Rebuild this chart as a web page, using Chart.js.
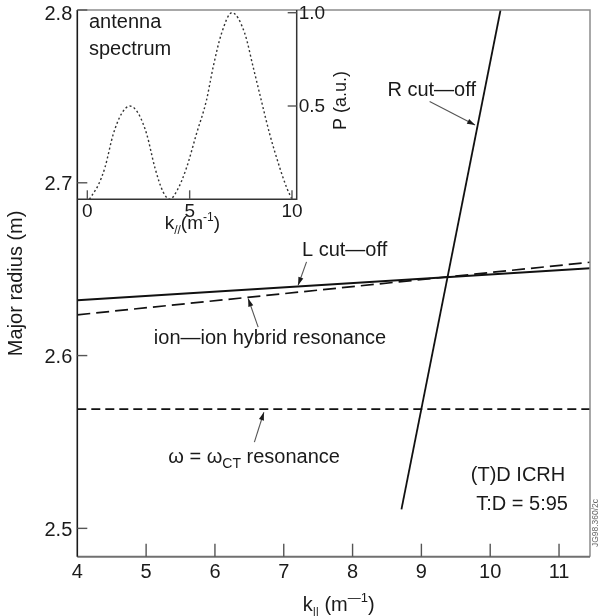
<!DOCTYPE html>
<html>
<head>
<meta charset="utf-8">
<script src="https://cdn.jsdelivr.net/npm/chart.js@4/dist/chart.umd.min.js"></script>
<style>
  html, body { margin: 0; padding: 0; background: #fff; }
  #wrap { position: relative; width: 600px; height: 616px; }
  #wrap canvas { position: absolute; left: 0; top: 0; }
</style>
</head>
<body>
<div id="wrap">
  <canvas id="mainChart" width="600" height="616"></canvas>
  <canvas id="insetChart" width="600" height="616"></canvas>
</div>
<script>
// main plot: k_parallel (m^-1) vs major radius (m)
const xTicks   = [4, 5, 6, 7, 8, 9, 10, 11];
const yTicks   = [2.5, 2.6, 2.7, 2.8];
const rCutK    = [8.71, 10.15];
const rCutR    = [2.511, 2.8];
const lCutK    = [4, 11.45];
const lCutR    = [2.632, 2.6505];
const ionIonK  = [4, 11.45];
const ionIonR  = [2.6236, 2.654];
const ctResK   = [4, 11.45];
const ctResR   = [2.569, 2.569];

// inset: antenna power spectrum
const specK = [0.1, 0.55, 0.86, 1.27, 1.68, 2.08, 2.49, 2.9, 3.3, 3.7, 4.03, 4.4, 4.85,
               5.33, 5.82, 6.15, 6.56, 7.07, 7.69, 8.1, 8.5, 8.91, 9.4, 9.75, 10.0];
const specP = [0.0, 0.08, 0.17, 0.35, 0.46, 0.50, 0.46, 0.35, 0.17, 0.04, 0.0, 0.05, 0.17,
               0.35, 0.53, 0.71, 0.89, 1.0, 0.89, 0.71, 0.53, 0.35, 0.17, 0.06, 0.0];
const specTicksK = [0, 5, 10];
const specTicksP = [0.5, 1.0];

const FONT = "'Liberation Sans', Arial, Helvetica, sans-serif";
const f = px => px + "px " + FONT;
const pts = (xs, ys) => xs.map((x, i) => ({ x, y: ys[i] }));

function line(ctx, x1, y1, x2, y2) {
  ctx.beginPath(); ctx.moveTo(x1, y1); ctx.lineTo(x2, y2); ctx.stroke();
}

function arrow(ctx, x1, y1, x2, y2) {
  ctx.lineWidth = 1.1;
  line(ctx, x1, y1, x2, y2);
  const ang = Math.atan2(y2 - y1, x2 - x1), L = 8, W = 2.6;
  ctx.beginPath();
  ctx.moveTo(x2, y2);
  ctx.lineTo(x2 - L * Math.cos(ang) + W * Math.sin(ang), y2 - L * Math.sin(ang) - W * Math.cos(ang));
  ctx.lineTo(x2 - L * Math.cos(ang) - W * Math.sin(ang), y2 - L * Math.sin(ang) + W * Math.cos(ang));
  ctx.closePath(); ctx.fill();
}

// draws text runs with sub/superscripts; parts = [[text, size, dy], ...]
function richText(ctx, parts, x, y, align) {
  let w = 0;
  parts.forEach(p => { ctx.font = f(p[1]); w += ctx.measureText(p[0]).width; });
  let cx = align === "center" ? x - w / 2 : (align === "right" ? x - w : x);
  ctx.textAlign = "left";
  parts.forEach(p => {
    ctx.font = f(p[1]);
    ctx.fillText(p[0], cx, y + p[2]);
    cx += ctx.measureText(p[0]).width;
  });
}

// labels and arrows placed in data units
const labels = [
  { text: "R cut\u2014off", k: 9.15, r: 2.7537, align: "center" },
  { text: "L cut\u2014off", k: 7.265, r: 2.6609, align: "left" },
  { text: "ion\u2014ion hybrid resonance", k: 6.80, r: 2.6098, align: "center" },
  { text: "(T)D ICRH", k: 11.09, r: 2.5306, align: "right" },
  { text: "T:D = 5:95", k: 11.13, r: 2.5141, align: "right" }
];
const arrows = [
  [9.12, 2.747, 9.78, 2.7334],
  [7.331, 2.6542, 7.209, 2.6407],
  [6.628, 2.6165, 6.483, 2.633],
  [6.573, 2.5499, 6.711, 2.5672]
];

const mainDecor = {
  id: "mainDecor",
  afterDraw(chart) {
    const { ctx, chartArea: a, scales: { x, y } } = chart;
    ctx.save();
    ctx.lineCap = "butt";

    // frame
    ctx.strokeStyle = "#8c8c8c"; ctx.lineWidth = 1.5;
    ctx.beginPath(); ctx.moveTo(a.left, a.top); ctx.lineTo(a.right, a.top); ctx.lineTo(a.right, a.bottom); ctx.stroke();
    ctx.strokeStyle = "#707070"; ctx.lineWidth = 2;
    line(ctx, a.left, a.bottom, a.right, a.bottom);
    ctx.strokeStyle = "#1a1a1a"; ctx.lineWidth = 1.6;
    line(ctx, a.left, a.top, a.left, a.bottom);

    ctx.fillStyle = "#1a1a1a";
    // x ticks, pointing inward
    ctx.strokeStyle = "#555"; ctx.lineWidth = 1.4;
    ctx.font = f(20); ctx.textAlign = "center"; ctx.textBaseline = "middle";
    xTicks.forEach(v => {
      const px = x.getPixelForValue(v);
      if (v !== xTicks[0]) line(ctx, px, a.bottom, px, a.bottom - 13);
      ctx.fillText(String(v), px, a.bottom + 16);
    });
    // y ticks; the top label sits a little lower so it stays on the canvas
    ctx.textAlign = "right";
    yTicks.forEach(v => {
      const py = y.getPixelForValue(v);
      line(ctx, a.left, py, a.left + 10, py);
      ctx.fillText(v.toFixed(1), a.left - 5, py + (py - a.top < 2 ? 4 : 2));
    });

    // axis titles
    ctx.textBaseline = "alphabetic";
    richText(ctx, [["k", 20, 0], ["||", 12, 5], [" (m", 20, 0], ["\u20141", 13, -9], [")", 20, 0]],
      (a.left + a.right) / 2 + 5, 611, "center");
    ctx.save();
    ctx.translate(16, (a.top + a.bottom) / 2);
    ctx.rotate(-Math.PI / 2);
    ctx.font = f(20); ctx.textAlign = "center"; ctx.textBaseline = "middle";
    ctx.fillText("Major radius (m)", 0, 0);
    ctx.restore();

    // annotations
    ctx.textBaseline = "middle";
    labels.forEach(l => {
      ctx.font = f(20); ctx.textAlign = l.align;
      ctx.fillText(l.text, x.getPixelForValue(l.k), y.getPixelForValue(l.r));
    });
    ctx.textBaseline = "alphabetic";
    richText(ctx, [["\u03c9 = \u03c9", 20, 0], ["CT", 14, 5], [" resonance", 20, 0]],
      x.getPixelForValue(5.323), y.getPixelForValue(2.5421) + 7, "left");
    arrows.forEach(r => arrow(ctx, x.getPixelForValue(r[0]), y.getPixelForValue(r[1]),
                                   x.getPixelForValue(r[2]), y.getPixelForValue(r[3])));

    // figure reference code
    ctx.save();
    ctx.translate(596, 523);
    ctx.rotate(-Math.PI / 2);
    ctx.font = f(8.5); ctx.fillStyle = "#666"; ctx.textAlign = "center"; ctx.textBaseline = "middle";
    ctx.fillText("JG98.360/2c", 0, 0);
    ctx.restore();

    ctx.restore();
  }
};

const insetDecor = {
  id: "insetDecor",
  afterDraw(chart) {
    const { ctx, chartArea: a, scales: { x, y } } = chart;
    ctx.save();
    ctx.strokeStyle = "#333"; ctx.lineWidth = 1.5;
    ctx.beginPath(); ctx.moveTo(a.left, a.bottom); ctx.lineTo(a.right, a.bottom); ctx.lineTo(a.right, a.top); ctx.stroke();

    ctx.fillStyle = "#1a1a1a";
    ctx.strokeStyle = "#555"; ctx.lineWidth = 1.4;
    ctx.font = f(19); ctx.textAlign = "center"; ctx.textBaseline = "middle";
    specTicksK.forEach(v => {
      const px = x.getPixelForValue(v);
      line(ctx, px, a.bottom, px, a.bottom - 9);
      ctx.fillText(String(v), px, a.bottom + 12);
    });
    ctx.textAlign = "left";
    specTicksP.forEach(v => {
      const py = y.getPixelForValue(v);
      line(ctx, a.right, py, a.right - 9, py);
      ctx.fillText(v.toFixed(1), a.right + 2, py + 1);
    });

    ctx.textBaseline = "alphabetic";
    richText(ctx, [["k", 19, 0], ["//", 12, 5], ["(m", 19, 0], ["-1", 12, -8], [")", 19, 0]],
      a.left + 115, a.bottom + 30, "center");

    ctx.save();
    ctx.translate(a.right + 44, y.getPixelForValue(0.53));
    ctx.rotate(-Math.PI / 2);
    ctx.font = f(18); ctx.textAlign = "center"; ctx.textBaseline = "middle";
    ctx.fillText("P (a.u.)", 0, 0);
    ctx.restore();

    ctx.font = f(20); ctx.textAlign = "left"; ctx.textBaseline = "middle";
    ctx.fillText("antenna", x.getPixelForValue(0.08), y.getPixelForValue(0.946));
    ctx.fillText("spectrum", x.getPixelForValue(0.08), y.getPixelForValue(0.805));
    ctx.restore();
  }
};

const hiddenAxis = (min, max) => ({ type: "linear", min, max, display: false });

new Chart(document.getElementById("mainChart"), {
  type: "scatter",
  data: {
    datasets: [
      { data: pts(rCutK, rCutR), showLine: true, borderColor: "#111", borderWidth: 1.8, pointRadius: 0 },
      { data: pts(lCutK, lCutR), showLine: true, borderColor: "#111", borderWidth: 1.9, pointRadius: 0 },
      { data: pts(ionIonK, ionIonR), showLine: true, borderColor: "#111", borderWidth: 1.7,
        borderDash: [13, 6], pointRadius: 0 },
      { data: pts(ctResK, ctResR), showLine: true, borderColor: "#111", borderWidth: 1.7,
        borderDash: [9, 5], pointRadius: 0 }
    ]
  },
  options: {
    responsive: false,
    animation: false,
    devicePixelRatio: 1,
    layout: { padding: { left: 77.3, top: 10, right: 10, bottom: 59.3 } },
    plugins: { legend: { display: false }, tooltip: { enabled: false } },
    scales: { x: hiddenAxis(4, 11.45), y: hiddenAxis(2.4836, 2.8) }
  },
  plugins: [mainDecor]
});

new Chart(document.getElementById("insetChart"), {
  type: "scatter",
  data: {
    datasets: [
      { data: pts(specK, specP), showLine: true, borderColor: "#333", borderWidth: 1.4,
        borderDash: [2, 2.5], pointRadius: 0, cubicInterpolationMode: "monotone" }
    ]
  },
  options: {
    responsive: false,
    animation: false,
    devicePixelRatio: 1,
    layout: { padding: { left: 77.3, top: 10, right: 303.3, bottom: 416.7 } },
    plugins: { legend: { display: false }, tooltip: { enabled: false } },
    scales: { x: hiddenAxis(-0.49, 10.23), y: hiddenAxis(0, 1.0145) }
  },
  plugins: [insetDecor]
});
</script>
</body>
</html>
